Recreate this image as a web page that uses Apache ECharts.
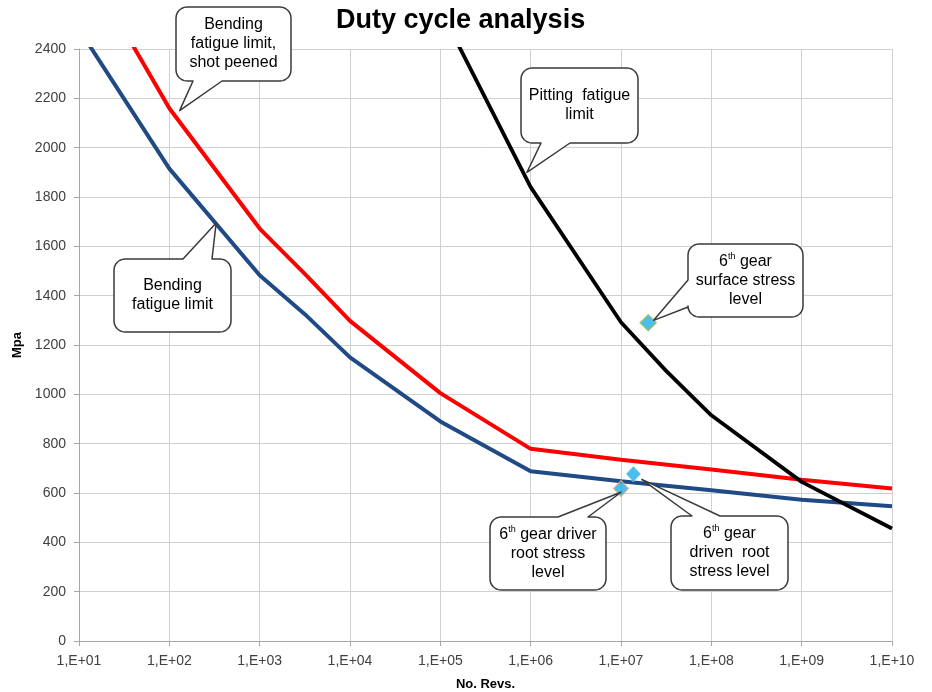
<!DOCTYPE html>
<html>
<head>
<meta charset="utf-8">
<script src="https://cdn.jsdelivr.net/npm/echarts@6/dist/echarts.min.js"></script>
<style>html,body{margin:0;padding:0;background:#fff;}#c{width:932px;height:692px;}</style>
</head>
<body>
<div id="c"></div>
<script>
// ---- data ----
const bendRevs = [1e1, 1e2, 1e3, 3.16e3, 1e4, 1e5, 1e6, 1e7, 1e8, 1e9, 1e10];
const bendingLimit = [2480, 1915, 1483, 1325, 1150, 890, 688, 648, 611, 573, 546];
const bendingShotPeened = [2790, 2160, 1672, 1488, 1298, 1005, 779, 735, 695, 654, 618];
const pittingRevs = [1e5, 1e6, 1e7, 3.16e7, 1e8, 1e9, 1e10];
const pittingLimit = [2560, 1840, 1292, 1095, 915, 645, 456];
const surfaceStress = [[2.0e7, 1290]];
const driverRootStress = [[1.0e7, 618]];
const drivenRootStress = [[1.37e7, 677]];
const xTickLabels = ['1,E+01','1,E+02','1,E+03','1,E+04','1,E+05','1,E+06','1,E+07','1,E+08','1,E+09','1,E+10'];
const yTicks = [0, 200, 400, 600, 800, 1000, 1200, 1400, 1600, 1800, 2000, 2200, 2400];

const FONT = '"Liberation Sans", Arial, sans-serif';
const chart = echarts.init(document.getElementById('c'), null, {renderer: 'canvas'});

const pair = (xs, ys) => xs.map((x, i) => [x, ys[i]]);

chart.setOption({
  animation: false,
  backgroundColor: '#fff',
  title: {
    text: 'Duty cycle analysis',
    left: 331, top: 2,
    textStyle: {fontFamily: FONT, fontSize: 27, fontWeight: 'bold', color: '#000'}
  },
  grid: {left: 79, right: 40, top: 49, bottom: 51, containLabel: false, outerBoundsMode: 'none'},
  xAxis: {
    type: 'log', logBase: 10, min: 1e1, max: 1e10,
    name: 'No. Revs.', nameLocation: 'middle', nameGap: 37,
    nameTextStyle: {fontFamily: FONT, fontSize: 13, fontWeight: 'bold', color: '#000'},
    axisLine: {show: true, lineStyle: {color: '#a6a6a6', width: 1}},
    axisTick: {show: true, length: 5, lineStyle: {color: '#a6a6a6'}},
    axisLabel: {
      fontFamily: FONT, fontSize: 14, color: '#404040', margin: 13,
      formatter: v => xTickLabels[Math.round(Math.log10(v)) - 1] || ''
    },
    splitLine: {show: true, lineStyle: {color: '#d0d0d0', width: 1}},
    minorTick: {show: false}, minorSplitLine: {show: false}
  },
  yAxis: {
    type: 'value', min: yTicks[0], max: yTicks[yTicks.length - 1], interval: 200,
    name: 'Mpa', nameLocation: 'middle', nameGap: 52, nameRotate: 90,
    nameTextStyle: {fontFamily: FONT, fontSize: 13, fontWeight: 'bold', color: '#000'},
    axisLine: {show: true, lineStyle: {color: '#a6a6a6', width: 1}},
    axisTick: {show: true, length: 5, lineStyle: {color: '#a6a6a6'}},
    axisLabel: {fontFamily: FONT, fontSize: 14, color: '#404040', margin: 13,
      formatter: v => String(v)},
    splitLine: {show: true, lineStyle: {color: '#d0d0d0', width: 1}}
  },
  series: [
    {
      name: 'Bending fatigue limit', type: 'line', data: pair(bendRevs, bendingLimit),
      showSymbol: false, symbol: 'none', clip: true, z: 3,
      lineStyle: {color: '#1F4A85', width: 4}
    },
    {
      name: 'Bending fatigue limit, shot peened', type: 'line', data: pair(bendRevs, bendingShotPeened),
      showSymbol: false, symbol: 'none', clip: true, z: 3,
      lineStyle: {color: '#FF0000', width: 4}
    },
    {
      name: 'Pitting fatigue limit', type: 'line', data: pair(pittingRevs, pittingLimit),
      showSymbol: false, symbol: 'none', clip: true, z: 4,
      lineStyle: {color: '#000000', width: 3.8}
    },
    {
      name: '6th gear surface stress level', type: 'scatter', data: surfaceStress,
      symbol: 'diamond', symbolSize: [16, 16], z: 5,
      itemStyle: {color: '#1EAEE8', borderColor: '#9BBB59', borderWidth: 1.5}
    },
    {
      name: '6th gear driver root stress level', type: 'scatter', data: driverRootStress,
      symbol: 'diamond', symbolSize: [15, 16], z: 5,
      itemStyle: {color: '#1EAEE8', borderColor: '#F7A96A', borderWidth: 1.2}
    },
    {
      name: '6th gear driven root stress level', type: 'scatter', data: drivenRootStress,
      symbol: 'diamond', symbolSize: [15, 16], z: 5,
      itemStyle: {color: '#1EAEE8', borderColor: '#ffffff', borderWidth: 0.5}
    }
  ]
});

// ---- callouts (boxes are layout, tips anchored to data coordinates) ----
function arcPts(cx, cy, r, a0, a1) {
  const pts = [];
  const n = 6;
  for (let i = 0; i <= n; i++) {
    const a = a0 + (a1 - a0) * i / n;
    pts.push([cx + r * Math.cos(a), cy + r * Math.sin(a)]);
  }
  return pts;
}
function calloutPoints(x, y, w, h, r, side, a, b, tip) {
  const P = Math.PI;
  let pts = [];
  pts = pts.concat(arcPts(x + r, y + r, r, P, 1.5 * P));
  if (side === 'top') pts.push([a, y], tip, [b, y]);
  pts = pts.concat(arcPts(x + w - r, y + r, r, 1.5 * P, 2 * P));
  if (side === 'right') pts.push([x + w, a], tip, [x + w, b]);
  pts = pts.concat(arcPts(x + w - r, y + h - r, r, 0, 0.5 * P));
  if (side === 'bottom') pts.push([b, y + h], tip, [a, y + h]);
  pts = pts.concat(arcPts(x + r, y + h - r, r, 0.5 * P, P));
  if (side === 'left') pts.push([x, b], tip, [x, a]);
  return pts;
}

const callouts = [
  {box: [176, 7, 115, 74], side: 'bottom', a: 193, b: 222, tipData: [130, 2150],
   text: 'Bending\nfatigue limit,\nshot peened'},
  {box: [114, 259, 117, 73], side: 'top', a: 183, b: 212, tipData: [330, 1695],
   text: 'Bending\nfatigue limit'},
  {box: [521, 68, 117, 75], side: 'bottom', a: 541, b: 570, tipData: [9.1e5, 1900],
   text: 'Pitting  fatigue\nlimit'},
  {box: [688, 244, 115, 73], side: 'left', a: 280, b: 307, tipData: [2.3e7, 1300],
   text: '{n|6}{s|th}{n| gear}\n{n|surface stress}\n{n|level}', rich: true},
  {box: [490, 517, 116, 73], side: 'top', a: 558, b: 588, tipData: [1.0e7, 603],
   text: '{n|6}{s|th}{n| gear driver}\n{n|root stress}\n{n|level}', rich: true},
  {box: [671, 516, 117, 74], side: 'top', a: 692, b: 720, tipData: [1.7e7, 655],
   text: '{n|6}{s|th}{n| gear}\n{n|driven  root}\n{n|stress level}', rich: true}
];

const elements = [];
callouts.forEach(c => {
  const tip = chart.convertToPixel({gridIndex: 0}, c.tipData);
  const [x, y, w, h] = c.box;
  elements.push({
    type: 'polygon', z: 100,
    shape: {points: calloutPoints(x, y, w, h, 11, c.side, c.a, c.b, tip)},
    style: {fill: '#ffffff', stroke: '#3a3a3a', lineWidth: 1.5, lineJoin: 'round'}
  });
  const lh = 19;
  const txt = {
    type: 'text', z: 101,
    x: x + w / 2, y: y + h / 2,
    style: {
      text: c.text, fill: '#000', font: '16px ' + FONT,
      align: 'center', verticalAlign: 'middle', lineHeight: lh
    }
  };
  if (c.rich) {
    txt.style.rich = {
      n: {fontFamily: FONT, fontSize: 16, lineHeight: lh, fill: '#000'},
      s: {fontFamily: FONT, fontSize: 9, lineHeight: lh, fill: '#000', verticalAlign: 'top', padding: [0, 0, 8, 0]}
    };
  }
  elements.push(txt);
});
chart.setOption({graphic: {elements}});
</script>
</body>
</html>
